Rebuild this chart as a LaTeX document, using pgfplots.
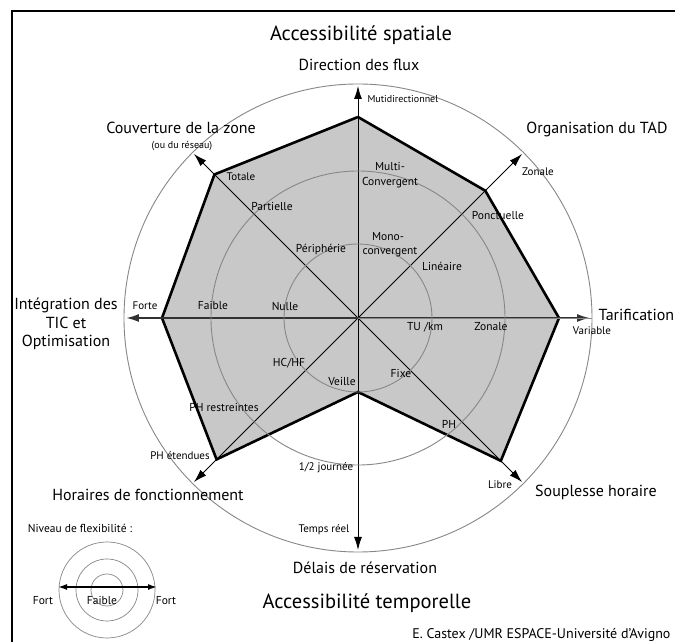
\documentclass[border=0pt]{standalone}
\usepackage{fontspec}
\setmainfont{PT Sans}
\usepackage{pgfplots}
\pgfplotsset{compat=1.18}
\usepgfplotslibrary{polar}
\usetikzlibrary{arrows.meta}

\definecolor{radarfill}{RGB}{200,200,200}
\definecolor{ringgray}{RGB}{135,135,135}
\definecolor{axisdark}{RGB}{50,50,50}

\newcommand{\fTitre}{\fontsize{20.5}{24}\selectfont}
\newcommand{\fAxe}{\fontsize{16}{19}\selectfont}
\newcommand{\fNiv}{\fontsize{11.5}{13}\selectfont}
\newcommand{\fPetit}{\fontsize{11}{13}\selectfont}
\newcommand{\fMini}{\fontsize{10}{11}\selectfont}

\tikzset{arr/.style={-{Latex[length=13pt,width=8pt]}}}

\begin{document}
\begin{tikzpicture}[x=1pt,y=1pt]
\useasboundingbox (0,0) rectangle (675,642);
\fill[white] (0,0) rectangle (675,642);
\draw[line width=2pt] (12,-2) -- (12,631) -- (677,631);

\begin{polaraxis}[
  at={(358pt,324pt)}, anchor=center,
  scale only axis, width=468pt, height=468pt,
  xmin=0, xmax=360, ymin=0, ymax=234,
  xtick=\empty, ytick={74,147},
  yticklabels={}, major tick length=0pt,
  ymajorgrids, grid style={ringgray, line width=0.9pt},
  axis line style={ringgray, line width=0.9pt},
  axis on top,
]
% niveau de flexibilite du TAD (angle, rayon)
\addplot[fill=radarfill, draw=black, line width=2.6pt, line join=miter] coordinates {
  (90,201) (45,180) (0,201) (-45,202) (-90,74) (-135,200) (180,196) (135,203) (90,201)
};
% axes
\addplot[black, line width=1pt, arr] coordinates {(90,0) (90,232)};
\addplot[black, line width=1pt, arr] coordinates {(45,0) (45,232)};
\addplot[black, line width=1pt, arr] coordinates {(135,0) (135,232)};
\addplot[black, line width=1pt, arr] coordinates {(225,0) (225,232)};
\addplot[black, line width=1pt, arr] coordinates {(270,0) (270,232)};
\addplot[black, line width=1pt, arr] coordinates {(315,0) (315,232)};
\addplot[axisdark, line width=1.8pt, arr] coordinates {(0,0) (0,232)};
\addplot[axisdark, line width=1.8pt, arr] coordinates {(180,0) (180,232)};
\end{polaraxis}

% titres
\node[font=\fTitre, anchor=mid] at (361,604) {Accessibilité spatiale};
\node[font=\fTitre, anchor=mid] at (367,36) {Accessibilité temporelle};

% noms des axes
\node[font=\fAxe, anchor=mid] at (359,574) {Direction des flux};
\node[font=\fAxe, anchor=mid] at (181,511) {Couverture de la zone};
\node[font=\fMini, anchor=mid] at (182,496) {(ou du réseau)};
\node[font=\fAxe, anchor=mid] at (597,511) {Organisation du TAD};
\node[font=\fAxe, anchor=west] at (595,327) {Tarification};
\node[font=\fAxe, anchor=mid] at (66,335) {Intégration des};
\node[font=\fAxe, anchor=mid] at (66,316) {TIC et};
\node[font=\fAxe, anchor=mid] at (66,298) {Optimisation};
\node[font=\fAxe, anchor=mid] at (148,144) {Horaires de fonctionnement};
\node[font=\fAxe, anchor=mid] at (596,148) {Souplesse horaire};
\node[font=\fAxe, anchor=mid] at (365,71) {Délais de réservation};

% niveaux
\node[font=\fMini, anchor=west] at (364,543) {Mutidirectionnel};
\node[font=\fPetit, anchor=mid] at (241,464) {Totale};
\node[font=\fNiv, anchor=mid] at (272,434) {Partielle};
\node[font=\fNiv, anchor=mid] at (321,392) {Périphérie};
\node[font=\fNiv, anchor=mid] at (390,474) {Multi-};
\node[font=\fNiv, anchor=mid] at (390,459) {Convergent};
\node[font=\fNiv, anchor=mid] at (388,404) {Mono-};
\node[font=\fNiv, anchor=mid] at (390,390) {convergent};
\node[font=\fPetit, anchor=mid] at (538,469) {Zonale};
\node[font=\fNiv, anchor=mid] at (498,425) {Ponctuelle};
\node[font=\fNiv, anchor=mid] at (442,374) {Linéaire};
\node[font=\fPetit, anchor=mid] at (592,310) {Variable};
\node[font=\fNiv, anchor=mid] at (425,314) {TU /km};
\node[font=\fNiv, anchor=mid] at (491,314) {Zonale};
\node[font=\fPetit, anchor=mid] at (145,335) {Forte};
\node[font=\fNiv, anchor=mid] at (213,335) {Faible};
\node[font=\fNiv, anchor=mid] at (285,334) {Nulle};
\node[font=\fNiv, anchor=mid] at (289,278) {HC/HF};
\node[font=\fNiv, anchor=mid] at (342,259) {Veille};
\node[font=\fNiv, anchor=mid] at (401,267) {Fixe};
\node[font=\fNiv, anchor=mid] at (224,233) {PH restreintes};
\node[font=\fNiv, anchor=mid] at (449,216) {PH};
\node[font=\fPetit, anchor=mid] at (180,185) {PH étendues};
\node[font=\fPetit, anchor=mid] at (500,156) {Libre};
\node[font=\fPetit, anchor=mid] at (326,174) {1/2 journée};
\node[font=\fPetit, anchor=mid] at (324,112) {Temps réel};

% legende
\node[font=\fNiv, anchor=mid] at (80,112) {Niveau de flexibilité :};
\draw[ringgray, line width=0.7pt] (107,52) circle (16) (107,52) circle (31) (107,52) circle (48);
\draw[black, line width=1.5pt, {Latex[length=9pt,width=6pt]}-{Latex[length=9pt,width=6pt]}] (58,55) -- (157,55);
\node[font=\fNiv, anchor=mid] at (43,40) {Fort};
\node[font=\fNiv, anchor=mid] at (102,40) {Faible};
\node[font=\fNiv, anchor=mid] at (166,40) {Fort};

\node[font=\fontsize{14}{16}\selectfont, anchor=base east] at (674,3) {E. Castex /UMR ESPACE-Université d'Avigno};
\end{tikzpicture}
\end{document}
